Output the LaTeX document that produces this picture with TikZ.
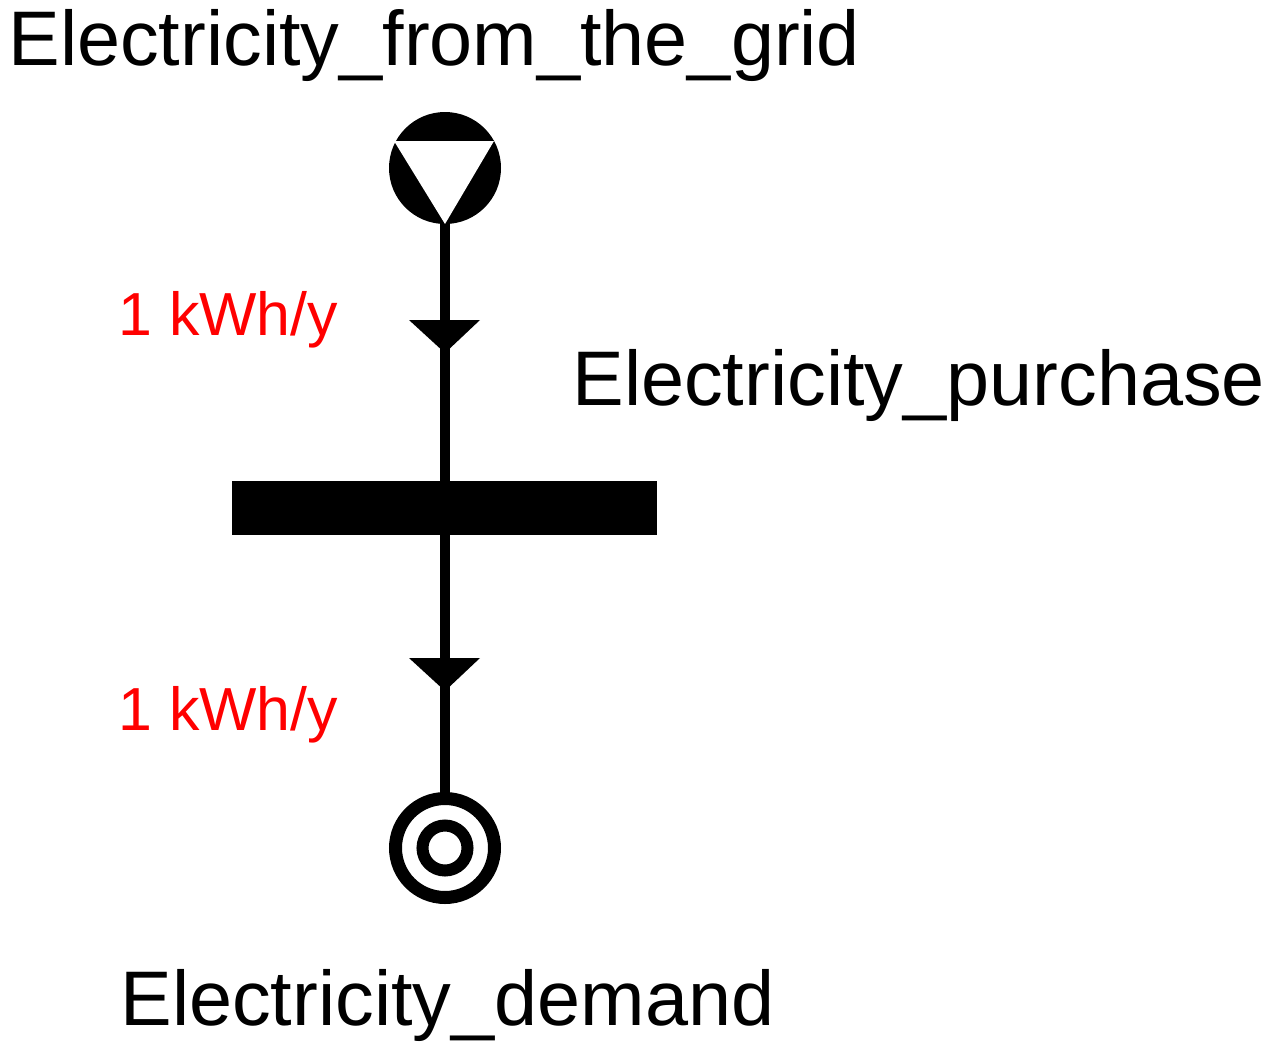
\documentclass[tikz,border=0pt]{standalone}
\usepackage{fontspec}
\setmainfont{Liberation Sans}
\begin{document}
\begin{tikzpicture}[x=0.5pt,y=-0.5pt,
  lbl/.style={font=\fontsize{38.7}{44}\selectfont,inner sep=0pt},
  flow/.style={font=\fontsize{30.4}{36}\selectfont,inner sep=0pt,text=red},
  wire/.style={line width=5pt}]
\useasboundingbox (0,0) rectangle (1271,1061);
\fill (445,168) circle (56);
\fill[white] (394,141) -- (494,141) -- (445,224) -- cycle;
\coordinate (src) at (445,224);
\node[fill=black,minimum width=212.5pt,minimum height=27pt,inner sep=0pt] (bar) at (444.5,508) {};
\coordinate (dem) at (445,793);
\draw[wire] (src) -- (bar.north -| src);
\draw[wire] (bar.south -| src) -- (dem);
\fill (409,320) -- (480,320) -- (445,353) -- cycle;
\fill (409,658) -- (480,658) -- (445,691) -- cycle;
\draw[line width=6.5pt] (445,848) circle (49.5);
\draw[line width=6pt] (445,848) circle (22.5);
\node[lbl,anchor=west] (t1) at (8,45) {Electricity\_from\_the\_grid};
\node[lbl,anchor=west] (t2) at (572,385) {Electricity\_purchase};
\node[lbl,anchor=west] (t3) at (120,1005) {Electricity\_demand};
\node[flow,anchor=west] (f1) at (118,320) {1 kWh/y};
\node[flow,anchor=west] (f2) at (118,715) {1 kWh/y};
\end{tikzpicture}
\end{document}
